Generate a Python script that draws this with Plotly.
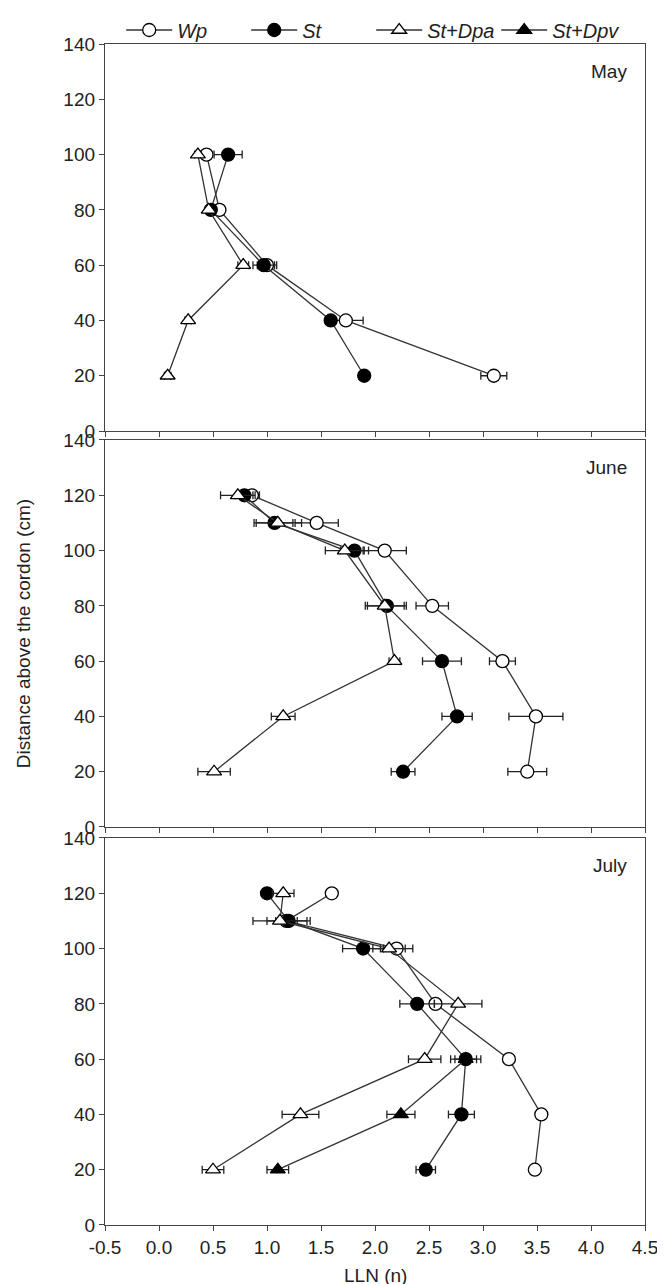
import plotly.graph_objects as go

# ---------------- data ----------------
months = ["May", "June", "July"]

may_h = [100, 80, 60, 40, 20]
may_wp = [0.44, 0.56, 1.00, 1.73, 3.10]
may_wp_err = [0.04, 0.03, 0.09, 0.16, 0.12]
may_st = [0.64, 0.48, 0.97, 1.59, 1.90]
may_st_err = [0.13, 0.03, 0.10, 0.05, 0.05]
may_dpa = [0.36, 0.46, 0.78, 0.27, 0.08]
may_dpa_err = [0.03, 0.03, 0.05, 0.03, 0.03]

june_h = [120, 110, 100, 80, 60, 40, 20]
june_wp = [0.86, 1.46, 2.09, 2.53, 3.18, 3.49, 3.41]
june_wp_err = [0.07, 0.20, 0.20, 0.15, 0.12, 0.25, 0.18]
june_st = [0.79, 1.07, 1.81, 2.11, 2.62, 2.76, 2.26]
june_st_err = [0.08, 0.17, 0.13, 0.18, 0.18, 0.14, 0.11]
june_dpa = [0.73, 1.10, 1.72, 2.09, 2.18, 1.15, 0.51]
june_dpa_err = [0.16, 0.22, 0.18, 0.18, 0.05, 0.11, 0.15]

july_h = [120, 110, 100, 80, 60, 40, 20]
july_wp = [1.60, 1.18, 2.20, 2.56, 3.24, 3.54, 3.48]
july_wp_err = [0.0, 0.10, 0.15, 0.05, 0.0, 0.0, 0.0]
july_st = [1.00, 1.20, 1.89, 2.39, 2.84, 2.80, 2.47]
july_st_err = [0.03, 0.20, 0.19, 0.16, 0.14, 0.12, 0.09]
july_dpa = [1.15, 1.12, 2.13, 2.77, 2.46, 1.31, 0.50]
july_dpa_err = [0.10, 0.25, 0.15, 0.22, 0.15, 0.17, 0.10]
july_dpv_h = [60, 40, 20]
july_dpv = [2.84, 2.24, 1.10]
july_dpv_err = [0.10, 0.13, 0.10]

x_ticks = [-0.5, 0.0, 0.5, 1.0, 1.5, 2.0, 2.5, 3.0, 3.5, 4.0, 4.5]
y_ticks = [0, 20, 40, 60, 80, 100, 120, 140]

# ---------------- styling ----------------
FONT = "Liberation Sans, Arial, sans-serif"
INK = "#222222"
LINE_C = "#333333"
MS = 13
FS = 19

styles = {
    "Wp": dict(symbol="circle", color="white"),
    "St": dict(symbol="circle", color="black"),
    "St+Dpa": dict(symbol="triangle-up", color="white"),
    "St+Dpv": dict(symbol="triangle-up", color="black"),
}

panels = [
    (may_h, [("Wp", may_wp, may_wp_err), ("St", may_st, may_st_err), ("St+Dpa", may_dpa, may_dpa_err)]),
    (june_h, [("Wp", june_wp, june_wp_err), ("St", june_st, june_st_err), ("St+Dpa", june_dpa, june_dpa_err)]),
    (july_h, [("Wp", july_wp, july_wp_err), ("St", july_st, july_st_err), ("St+Dpa", july_dpa, july_dpa_err)]),
]

fig = go.Figure()
shown = set()

def add_series(name, xs, ys, errs, idx):
    st = styles[name]
    sfx = "" if idx == 1 else str(idx)
    fig.add_trace(go.Scatter(
        x=xs, y=ys, mode="lines+markers", name=f"<i>{name}</i>",
        legendgroup=name, showlegend=name not in shown,
        line=dict(color=LINE_C, width=1.3),
        marker=dict(symbol=st["symbol"], size=MS, color=st["color"],
                    line=dict(color="black", width=1.3)),
        error_x=dict(type="data", array=errs, visible=True,
                     color=INK, thickness=1.3, width=4),
        xaxis="x" + sfx, yaxis="y" + sfx,
    ))
    shown.add(name)

for i, (hs, series) in enumerate(panels, start=1):
    for name, xs, errs in series:
        add_series(name, xs, hs, errs, i)
add_series("St+Dpv", july_dpv, july_dpv_h, july_dpv_err, 3)

domains = [[0.6723, 1.0], [0.337, 0.6647], [0.0, 0.3277]]

axis_common = dict(
    showline=True, linecolor="#444444", linewidth=1.3, mirror=True,
    ticks="outside", ticklen=5, tickwidth=1.2, tickcolor="#444444",
    showgrid=False, zeroline=False,
    tickfont=dict(family=FONT, size=FS, color=INK),
)

layout = dict(
    width=665, height=1284,
    margin=dict(l=97, r=28, t=36, b=67, autoexpand=False),
    plot_bgcolor="white", paper_bgcolor="white",
    font=dict(family=FONT, size=FS, color=INK),
    legend=dict(orientation="h", x=0.03, xanchor="left", y=1.0 + 14 / 1181, yanchor="middle",
                font=dict(family=FONT, size=20, color=INK),
                itemwidth=46, entrywidth=64, entrywidthmode="pixels",
                bgcolor="rgba(0,0,0,0)", traceorder="normal"),
    annotations=[],
)

for i in range(1, 4):
    sfx = "" if i == 1 else str(i)
    layout["xaxis" + sfx] = dict(
        axis_common, range=[-0.5, 4.5], tickvals=x_ticks,
        ticktext=[f"{v:.1f}" for v in x_ticks],
        showticklabels=(i == 3), anchor="y" + sfx, domain=[0, 1],
    )
    layout["yaxis" + sfx] = dict(
        axis_common, range=[0, 140], tickvals=y_ticks,
        anchor="x" + sfx, domain=domains[i - 1],
    )
    layout["annotations"].append(dict(
        text=months[i - 1], xref=("x" + sfx) + " domain", yref=("y" + sfx) + " domain",
        x=0.97, y=0.96, xanchor="right", yanchor="top", showarrow=False,
        font=dict(family=FONT, size=FS, color=INK),
    ))

layout["annotations"].append(dict(
    text="LLN (n)", xref="paper", yref="paper", x=0.5, y=-0.043,
    xanchor="center", yanchor="middle", showarrow=False,
    font=dict(family=FONT, size=FS, color=INK),
))
layout["annotations"].append(dict(
    text="Distance above the cordon (cm)", xref="paper", yref="paper",
    x=-0.152, y=0.501, xanchor="center", yanchor="middle", textangle=-90,
    showarrow=False, font=dict(family=FONT, size=FS, color=INK),
))

fig.update_layout(**layout)
fig.write_html("out.html")
